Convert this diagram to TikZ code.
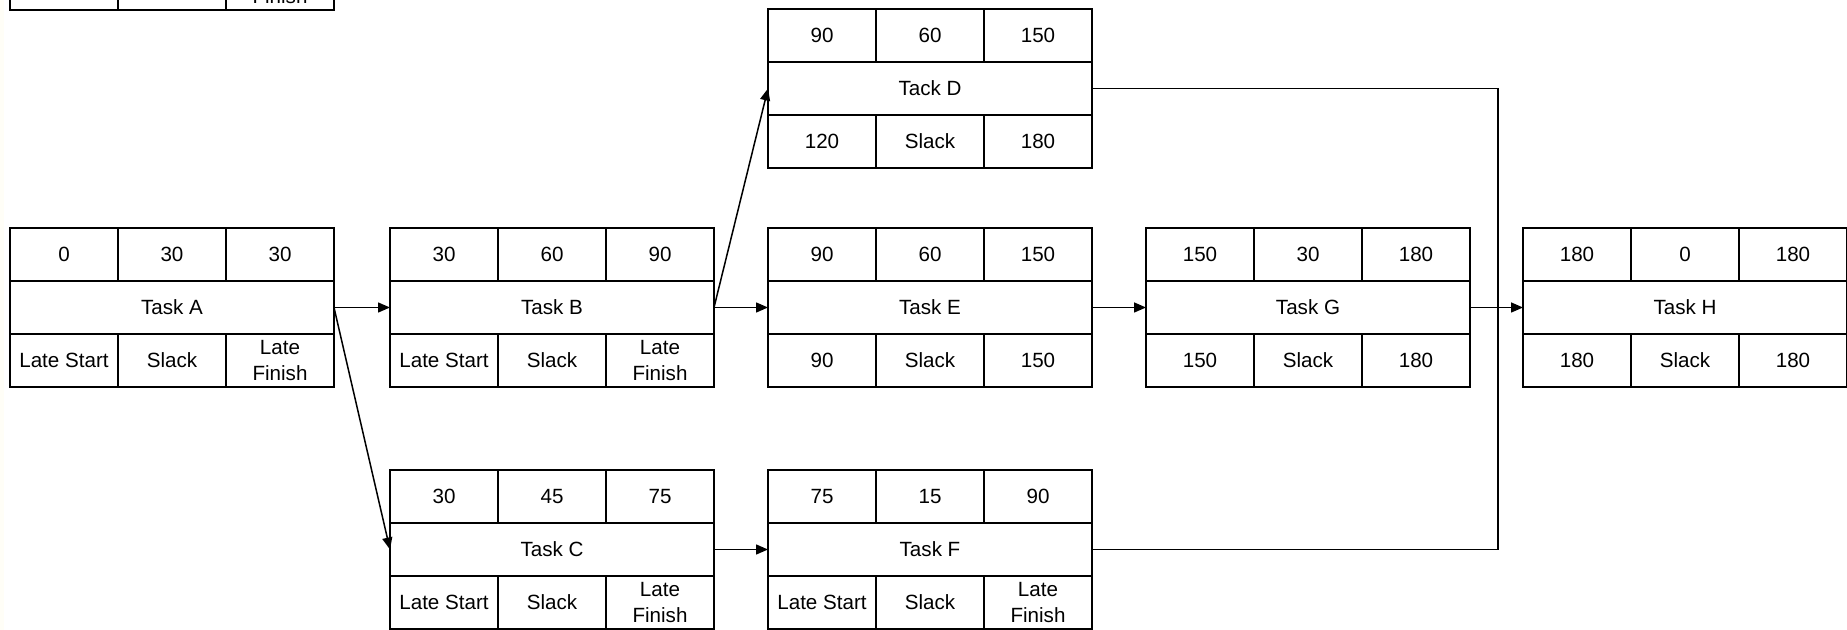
\documentclass[tikz,border=0pt]{standalone}
\usepackage{fontspec}
\setmainfont{Liberation Sans}
\usetikzlibrary{arrows.meta}

\tikzset{
  cell/.style={draw, line width=0.8pt, minimum width=54pt, minimum height=26.5pt,
    inner sep=0pt, outer sep=0pt, align=center, font=\fontsize{10.3}{13}\selectfont},
  titlecell/.style={cell, minimum width=162pt},
  flow/.style={line width=0.75pt, -{Triangle[length=6pt,width=5pt]}},
  wire/.style={line width=0.75pt},
}

% one activity box: name, top-left corner, ES, duration, EF, title, LS, slack, LF
\newcommand{\taskbox}[9]{%
  \begin{scope}[shift={#2}]
    \node[cell] (#1-es) at (54,26.5) {#3};
    \node[cell] (#1-du) at (162,26.5) {#4};
    \node[cell] (#1-ef) at (270,26.5) {#5};
    \node[titlecell] (#1) at (162,79.5) {#6};
    \node[cell] (#1-ls) at (54,132.5) {#7};
    \node[cell] (#1-sl) at (162,132.5) {#8};
    \node[cell] (#1-lf) at (270,132.5) {#9};
  \end{scope}}

\begin{document}
\begin{tikzpicture}[x=0.5pt, y=-0.5pt]

        % page
            \useasboundingbox (0,0) rectangle (1847,630);
            \fill[white] (0,0) rectangle (1847,630);
            \fill[black!4!yellow!3!white] (0,0) rectangle (4,630);

        % legend box (cut off at the top)
            \node[cell] (prev-ls) at (64,-16.5) {};
            \node[cell] (prev-sl) at (172,-16.5) {};
            \node[cell] (prev-lf) at (280,-16.5) {Late\\Finish};

        % activities
            \taskbox{taskA}{(10,228)}{0}{30}{30}{Task A}{Late Start}{Slack}{Late\\Finish}
            \taskbox{taskB}{(390,228)}{30}{60}{90}{Task B}{Late Start}{Slack}{Late\\Finish}
            \taskbox{taskC}{(390,470)}{30}{45}{75}{Task C}{Late Start}{Slack}{Late\\Finish}
            \taskbox{taskD}{(768,9)}{90}{60}{150}{Tack D}{120}{Slack}{180}
            \taskbox{taskE}{(768,228)}{90}{60}{150}{Task E}{90}{Slack}{150}
            \taskbox{taskF}{(768,470)}{75}{15}{90}{Task F}{Late Start}{Slack}{Late\\Finish}
            \taskbox{taskG}{(1146,228)}{150}{30}{180}{Task G}{150}{Slack}{180}
            \taskbox{taskH}{(1523,228)}{180}{0}{180}{Task H}{180}{Slack}{180}

        % dependencies
            \draw[flow] (taskA.east) -- (taskB.west);
            \draw[flow] (taskA.east) -- (taskC.west);
            \draw[flow] (taskB.east) -- (taskD.west);
            \draw[flow] (taskB.east) -- (taskE.west);
            \draw[flow] (taskC.east) -- (taskF.west);
            \draw[flow] (taskE.east) -- (taskG.west);
            \draw[flow] (taskG.east) -- (taskH.west);

        % D and F join the line into H
            \coordinate (bus) at (1498,549.5);
            \draw[wire] (taskD.east) -| (bus) -- (taskF.east);

\end{tikzpicture}
\end{document}
